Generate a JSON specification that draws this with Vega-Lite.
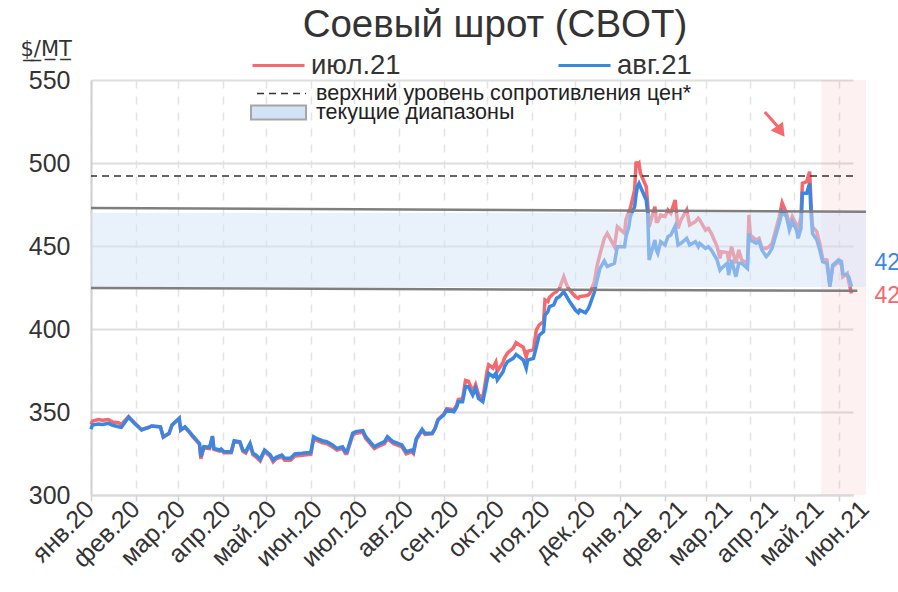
{
"$schema": "https://vega.github.io/schema/vega-lite/v6.json",
"width": 762, "height": 415,
"autosize": {"type": "none"},
"padding": {"left": 91, "top": 80, "right": 45, "bottom": 97},
"background": "white",
"config": {"font": "Liberation Sans", "view": {"stroke": null}},
"title": {"text": "Соевый шрот (CBOT)", "fontSize": 38.5, "fontWeight": "normal", "color": "#333333", "anchor": "middle", "frame": "group", "dx": 23, "offset": -37, "baseline": "alphabetic"},
"datasets": {"prices": [
{"d":"2020-01-01","jul":342.5,"aug":339.6},{"d":"2020-01-02","jul":344.5,"aug":342.2},{"d":"2020-01-06","jul":345.5,"aug":342.8},{"d":"2020-01-09","jul":345.0,"aug":342.5},{"d":"2020-01-13","jul":345.5,"aug":343.2},{"d":"2020-01-16","jul":344.0,"aug":342.0},{"d":"2020-01-20","jul":343.5,"aug":341.1},{"d":"2020-01-22","jul":342.5,"aug":340.8},{"d":"2020-01-27","jul":347.3,"aug":346.8},{"d":"2020-01-31","jul":343.5,"aug":343.2},
{"d":"2020-02-05","jul":339.5,"aug":339.2},{"d":"2020-02-10","jul":340.8,"aug":340.8},{"d":"2020-02-12","jul":341.6,"aug":341.6},{"d":"2020-02-18","jul":341.0,"aug":341.1},{"d":"2020-02-20","jul":334.8,"aug":335.1},{"d":"2020-02-24","jul":337.0,"aug":337.2},{"d":"2020-02-26","jul":342.0,"aug":342.2},
{"d":"2020-03-02","jul":346.0,"aug":346.2},{"d":"2020-03-03","jul":339.0,"aug":339.2},{"d":"2020-03-06","jul":340.8,"aug":341.1},{"d":"2020-03-09","jul":337.8,"aug":338.2},{"d":"2020-03-11","jul":335.5,"aug":336.1},{"d":"2020-03-16","jul":330.5,"aug":331.1},{"d":"2020-03-17","jul":321.8,"aug":323.1},{"d":"2020-03-19","jul":328.3,"aug":329.1},{"d":"2020-03-23","jul":328.0,"aug":328.7},{"d":"2020-03-25","jul":335.0,"aug":335.5},{"d":"2020-03-26","jul":327.5,"aug":328.1},{"d":"2020-03-30","jul":326.5,"aug":327.1},{"d":"2020-03-31","jul":327.0,"aug":327.7},
{"d":"2020-04-02","jul":325.5,"aug":326.1},{"d":"2020-04-07","jul":325.5,"aug":326.1},{"d":"2020-04-09","jul":332.0,"aug":332.7},{"d":"2020-04-13","jul":331.5,"aug":332.1},{"d":"2020-04-15","jul":326.3,"aug":327.1},{"d":"2020-04-17","jul":325.3,"aug":326.1},{"d":"2020-04-20","jul":330.3,"aug":331.1},{"d":"2020-04-22","jul":324.3,"aug":325.1},{"d":"2020-04-24","jul":323.0,"aug":324.1},{"d":"2020-04-27","jul":320.5,"aug":321.5},{"d":"2020-04-30","jul":326.3,"aug":327.1},
{"d":"2020-05-04","jul":323.3,"aug":324.1},{"d":"2020-05-06","jul":320.0,"aug":321.1},{"d":"2020-05-08","jul":321.7,"aug":322.7},{"d":"2020-05-12","jul":323.0,"aug":324.1},{"d":"2020-05-14","jul":321.0,"aug":322.1},{"d":"2020-05-18","jul":321.0,"aug":322.1},{"d":"2020-05-21","jul":323.5,"aug":324.7},{"d":"2020-05-26","jul":324.0,"aug":325.1},{"d":"2020-05-29","jul":324.3,"aug":325.5},
{"d":"2020-06-01","jul":324.5,"aug":325.6},{"d":"2020-06-03","jul":334.0,"aug":335.1},{"d":"2020-06-05","jul":333.0,"aug":334.1},{"d":"2020-06-09","jul":331.5,"aug":332.7},{"d":"2020-06-12","jul":331.0,"aug":332.1},{"d":"2020-06-16","jul":329.0,"aug":330.1},{"d":"2020-06-19","jul":327.0,"aug":328.1},{"d":"2020-06-23","jul":328.0,"aug":329.1},{"d":"2020-06-25","jul":325.0,"aug":326.1},{"d":"2020-06-26","jul":325.0,"aug":326.1},{"d":"2020-06-30","jul":336.0,"aug":337.2},
{"d":"2020-07-02","jul":337.2,"aug":338.2},{"d":"2020-07-07","jul":337.8,"aug":338.8},{"d":"2020-07-09","jul":334.0,"aug":335.1},{"d":"2020-07-13","jul":330.0,"aug":331.1},{"d":"2020-07-15","jul":328.0,"aug":329.1},{"d":"2020-07-17","jul":329.0,"aug":330.1},{"d":"2020-07-22","jul":331.0,"aug":332.1},{"d":"2020-07-24","jul":334.0,"aug":335.1},{"d":"2020-07-28","jul":331.0,"aug":332.1},{"d":"2020-07-30","jul":330.3,"aug":331.5},
{"d":"2020-08-03","jul":329.0,"aug":330.1},{"d":"2020-08-06","jul":324.8,"aug":326.1},{"d":"2020-08-10","jul":326.0,"aug":327.1},{"d":"2020-08-11","jul":325.0,"aug":326.1},{"d":"2020-08-13","jul":333.3,"aug":334.1},{"d":"2020-08-17","jul":339.0,"aug":339.6},{"d":"2020-08-19","jul":336.5,"aug":337.2},{"d":"2020-08-24","jul":336.8,"aug":337.2},{"d":"2020-08-26","jul":340.2,"aug":340.2},{"d":"2020-08-28","jul":345.5,"aug":345.2},
{"d":"2020-09-01","jul":348.8,"aug":348.2},{"d":"2020-09-03","jul":352.0,"aug":351.2},{"d":"2020-09-08","jul":351.3,"aug":350.2},{"d":"2020-09-10","jul":354.5,"aug":353.2},{"d":"2020-09-11","jul":357.5,"aug":356.2},{"d":"2020-09-14","jul":358.0,"aug":356.2},{"d":"2020-09-16","jul":369.0,"aug":365.2},{"d":"2020-09-18","jul":368.5,"aug":365.2},{"d":"2020-09-21","jul":362.5,"aug":360.2},{"d":"2020-09-23","jul":366.5,"aug":364.3},{"d":"2020-09-25","jul":360.5,"aug":358.2},{"d":"2020-09-28","jul":358.5,"aug":356.2},
{"d":"2020-10-01","jul":375.0,"aug":369.3},{"d":"2020-10-02","jul":378.5,"aug":373.3},{"d":"2020-10-05","jul":376.5,"aug":371.3},{"d":"2020-10-07","jul":380.0,"aug":373.3},{"d":"2020-10-08","jul":374.5,"aug":369.3},{"d":"2020-10-12","jul":380.0,"aug":374.3},{"d":"2020-10-13","jul":382.5,"aug":377.3},{"d":"2020-10-15","jul":385.4,"aug":380.3},{"d":"2020-10-19","jul":388.5,"aug":382.3},{"d":"2020-10-21","jul":391.8,"aug":384.7},{"d":"2020-10-23","jul":390.5,"aug":383.3},{"d":"2020-10-26","jul":389.0,"aug":381.3},{"d":"2020-10-28","jul":383.0,"aug":376.3},{"d":"2020-10-29","jul":386.5,"aug":381.3},
{"d":"2020-11-02","jul":387.5,"aug":382.3},{"d":"2020-11-04","jul":399.4,"aug":389.3},{"d":"2020-11-06","jul":402.5,"aug":396.3},{"d":"2020-11-09","jul":404.4,"aug":398.4},{"d":"2020-11-10","jul":417.5,"aug":408.4},{"d":"2020-11-12","jul":416.5,"aug":410.4},{"d":"2020-11-13","jul":419.0,"aug":413.4},{"d":"2020-11-16","jul":421.5,"aug":414.5},{"d":"2020-11-18","jul":422.5,"aug":418.5},{"d":"2020-11-20","jul":424.5,"aug":419.5},{"d":"2020-11-23","jul":431.5,"aug":422.5},{"d":"2020-11-25","jul":426.5,"aug":419.5},{"d":"2020-11-27","jul":423.5,"aug":416.5},
{"d":"2020-12-01","jul":419.5,"aug":411.4},{"d":"2020-12-03","jul":418.5,"aug":409.8},{"d":"2020-12-04","jul":419.5,"aug":411.4},{"d":"2020-12-08","jul":420.0,"aug":409.8},{"d":"2020-12-10","jul":420.5,"aug":412.4},{"d":"2020-12-11","jul":421.5,"aug":414.5},{"d":"2020-12-14","jul":428.0,"aug":422.0},{"d":"2020-12-16","jul":438.0,"aug":429.5},{"d":"2020-12-17","jul":441.6,"aug":433.0},{"d":"2020-12-18","jul":445.0,"aug":436.5},{"d":"2020-12-21","jul":454.6,"aug":441.0},{"d":"2020-12-23","jul":457.6,"aug":437.6},{"d":"2020-12-28","jul":449.6,"aug":439.6},{"d":"2020-12-30","jul":461.6,"aug":449.6},
{"d":"2021-01-04","jul":457.6,"aug":449.6},{"d":"2021-01-05","jul":466.0,"aug":455.6},{"d":"2021-01-07","jul":470.7,"aug":461.6},{"d":"2021-01-08","jul":472.7,"aug":467.7},{"d":"2021-01-11","jul":484.0,"aug":473.7},{"d":"2021-01-12","jul":500.8,"aug":481.0},{"d":"2021-01-13","jul":498.8,"aug":486.0},{"d":"2021-01-14","jul":499.8,"aug":487.7},{"d":"2021-01-15","jul":493.8,"aug":485.7},{"d":"2021-01-19","jul":485.7,"aug":477.7},{"d":"2021-01-20","jul":475.7,"aug":469.7},{"d":"2021-01-21","jul":461.6,"aug":441.6},{"d":"2021-01-25","jul":473.7,"aug":453.6},{"d":"2021-01-26","jul":464.7,"aug":447.6},{"d":"2021-01-27","jul":464.7,"aug":445.6},{"d":"2021-01-29","jul":468.7,"aug":452.6},
{"d":"2021-02-01","jul":467.7,"aug":450.6},{"d":"2021-02-03","jul":471.7,"aug":455.6},{"d":"2021-02-05","jul":469.7,"aug":456.6},{"d":"2021-02-08","jul":477.7,"aug":462.0},{"d":"2021-02-10","jul":460.6,"aug":450.6},{"d":"2021-02-12","jul":465.7,"aug":451.6},{"d":"2021-02-16","jul":471.7,"aug":454.6},{"d":"2021-02-18","jul":462.7,"aug":450.6},{"d":"2021-02-22","jul":464.7,"aug":452.6},{"d":"2021-02-24","jul":466.7,"aug":449.6},{"d":"2021-02-25","jul":465.7,"aug":451.6},
{"d":"2021-03-01","jul":459.6,"aug":448.6},{"d":"2021-03-03","jul":460.6,"aug":449.6},{"d":"2021-03-05","jul":457.6,"aug":447.6},{"d":"2021-03-09","jul":449.6,"aug":441.6},{"d":"2021-03-11","jul":442.6,"aug":435.5},{"d":"2021-03-12","jul":446.6,"aug":436.5},{"d":"2021-03-16","jul":446.0,"aug":439.6},{"d":"2021-03-17","jul":441.0,"aug":432.5},{"d":"2021-03-19","jul":449.6,"aug":441.6},{"d":"2021-03-22","jul":439.6,"aug":431.5},{"d":"2021-03-24","jul":447.6,"aug":439.6},{"d":"2021-03-26","jul":441.6,"aug":439.6},{"d":"2021-03-30","jul":439.6,"aug":436.5},{"d":"2021-03-31","jul":468.7,"aug":457.6},
{"d":"2021-04-01","jul":456.6,"aug":453.6},{"d":"2021-04-05","jul":453.6,"aug":451.6},{"d":"2021-04-07","jul":454.6,"aug":452.6},{"d":"2021-04-09","jul":449.0,"aug":447.6},{"d":"2021-04-12","jul":448.6,"aug":443.6},{"d":"2021-04-14","jul":449.6,"aug":445.6},{"d":"2021-04-16","jul":451.6,"aug":448.6},{"d":"2021-04-21","jul":467.7,"aug":463.7},{"d":"2021-04-23","jul":476.1,"aug":470.7},{"d":"2021-04-26","jul":469.7,"aug":467.7},{"d":"2021-04-28","jul":462.7,"aug":459.6},{"d":"2021-04-30","jul":467.7,"aug":464.7},
{"d":"2021-05-03","jul":462.7,"aug":459.6},{"d":"2021-05-04","jul":459.6,"aug":454.6},{"d":"2021-05-06","jul":467.7,"aug":460.6},{"d":"2021-05-07","jul":487.8,"aug":481.8},{"d":"2021-05-10","jul":488.8,"aug":481.8},{"d":"2021-05-12","jul":494.8,"aug":487.8},{"d":"2021-05-13","jul":475.7,"aug":469.7},{"d":"2021-05-14","jul":461.6,"aug":457.6},{"d":"2021-05-17","jul":458.6,"aug":453.6},{"d":"2021-05-19","jul":451.6,"aug":447.6},{"d":"2021-05-21","jul":442.6,"aug":440.6},{"d":"2021-05-24","jul":441.6,"aug":439.6},{"d":"2021-05-26","jul":426.5,"aug":425.5},{"d":"2021-05-28","jul":437.6,"aug":438.5},
{"d":"2021-06-01","jul":440.6,"aug":441.6},{"d":"2021-06-03","jul":438.5,"aug":440.6},{"d":"2021-06-04","jul":431.5,"aug":433.5},{"d":"2021-06-07","jul":433.5,"aug":432.5},{"d":"2021-06-08","jul":428.5,"aug":431.5},{"d":"2021-06-10","jul":421.5,"aug":425.5}
],
"months": [
{"k":0,"lab":"янв.20"},{"k":1,"lab":"фев.20"},{"k":2,"lab":"мар.20"},{"k":3,"lab":"апр.20"},{"k":4,"lab":"май.20"},{"k":5,"lab":"июн.20"},{"k":6,"lab":"июл.20"},{"k":7,"lab":"авг.20"},{"k":8,"lab":"сен.20"},{"k":9,"lab":"окт.20"},{"k":10,"lab":"ноя.20"},{"k":11,"lab":"дек.20"},{"k":12,"lab":"янв.21"},{"k":13,"lab":"фев.21"},{"k":14,"lab":"мар.21"},{"k":15,"lab":"апр.21"},{"k":16,"lab":"май.21"},{"k":17,"lab":"июн.21"}
]},
"resolve": {"scale": {"x": "independent"}},
"layer": [
{"layer": [
{"data": {"values": [{"a": "2021-05-20", "b": "2021-06-20"}]},
 "mark": {"type": "rect", "color": "#f4686e", "opacity": 0.09},
 "encoding": {"x": {"field": "a", "type": "temporal"}, "x2": {"field": "b"}, "y": {"datum": 550, "type": "quantitative"}, "y2": {"datum": 300}}},
{"data": {"name": "prices"},
 "mark": {"type": "line", "strokeWidth": 3.5},
 "encoding": {
  "x": {"field": "d", "type": "temporal",
        "scale": {"domain": [{"year": 2020, "month": 1, "date": 1}, {"year": 2021, "month": 6, "date": 11}]},
        "axis": {"title": null, "tickCount": {"interval": "month", "step": 1}, "labels": false,
                 "grid": true, "gridDash": [8, 8], "gridColor": "#e3e3e3", "gridWidth": 1.5,
                 "domainColor": "#d9d9d9", "domainWidth": 2, "tickColor": "#d0d0d0", "tickSize": 6, "tickWidth": 1.5}},
  "y": {"field": "jul", "type": "quantitative",
        "scale": {"domain": [300, 550], "zero": false, "nice": false},
        "axis": {"title": "$\u0332/\u0332M\u0332T\u0332", "titleFont": "DejaVu Sans", "titleAngle": 0, "titleX": -71, "titleY": -25, "titleAlign": "left", "titleBaseline": "alphabetic",
                 "titleFontSize": 21, "titleFontWeight": "normal", "titleColor": "#333333",
                 "values": [300, 350, 400, 450, 500, 550], "labelFontSize": 25, "labelColor": "#333333", "labelPadding": 21,
                 "ticks": false, "domainColor": "#cfcfcf", "domainWidth": 2, "grid": true, "gridColor": "#dedede", "gridWidth": 2}},
  "stroke": {"datum": "jul", "type": "nominal",
             "scale": {"domain": ["jul", "aug"], "range": ["#f4686e", "#3b86e0"]},
             "legend": {"orient": "none", "legendX": 160, "legendY": -42, "direction": "horizontal", "title": null,
                        "symbolType": "stroke", "symbolSize": 2704, "symbolStrokeWidth": 3, "labelFontSize": 27.5, "labelColor": "#333333",
                        "labelOffset": 5, "columnPadding": 151, "padding": 0,
                        "labelExpr": "datum.label == 'jul' ? 'июл.21' : 'авг.21'"}}}},
{"data": {"name": "prices"},
 "mark": {"type": "line", "strokeWidth": 3.5},
 "encoding": {"x": {"field": "d", "type": "temporal"}, "y": {"field": "aug", "type": "quantitative"}, "stroke": {"datum": "aug", "type": "nominal"}}},
{"data": {"values": [{"a": "2020-01-01", "b": "2021-06-20", "lo": 425.3, "hi": 469.9}]},
 "mark": {"type": "rect", "opacity": 0.5},
 "encoding": {"x": {"field": "a", "type": "temporal"}, "x2": {"field": "b"}, "y": {"field": "lo", "type": "quantitative"}, "y2": {"field": "hi"},
   "fill": {"datum": "текущие диапазоны", "type": "nominal", "scale": {"range": ["#d3e3f7"]},
            "legend": {"orient": "none", "legendX": 159, "legendY": 4, "title": null, "symbolType": "M-1,-0.255H1V0.255H-1Z", "symbolSize": 3025,
                       "symbolStrokeColor": "#a6a6a6", "symbolStrokeWidth": 2, "symbolOpacity": 1, "labelFontSize": 21.5, "labelColor": "#222222",
                       "labelOffset": 9, "labelLimit": 600, "padding": 0}}}},
{"data": {"values": [{"a": "2020-01-01", "b": "2021-06-20", "ya": 472.9, "yb": 470.6}, {"a": "2020-01-01", "b": "2021-06-14", "ya": 424.7, "yb": 423.0}]},
 "mark": {"type": "rule", "color": "#7f7f7f", "strokeWidth": 2.5},
 "encoding": {"x": {"field": "a", "type": "temporal"}, "x2": {"field": "b"}, "y": {"field": "ya", "type": "quantitative"}, "y2": {"field": "yb"}}},
{"data": {"values": [{"lvl": 492.2}]},
 "mark": {"type": "rule", "color": "#333333", "strokeWidth": 1.5},
 "encoding": {"y": {"field": "lvl", "type": "quantitative"},
   "strokeDash": {"datum": "верхний уровень сопротивления цен*", "type": "nominal", "scale": {"range": [[7, 5]]},
                  "legend": {"orient": "none", "legendX": 165, "legendY": -12, "title": null, "symbolType": "stroke", "symbolSize": 2401,
                             "symbolStrokeColor": "#333333", "symbolStrokeWidth": 1.5, "labelFontSize": 21.5, "labelColor": "#222222",
                             "labelOffset": 9, "labelLimit": 600, "padding": 0}}}},
{"data": {"values": [{"d": "2021-06-10", "v": 425.5, "t": "426"}]},
 "mark": {"type": "text", "align": "left", "baseline": "middle", "dx": 23, "dy": -24, "fontSize": 23, "color": "#3b86e0"},
 "encoding": {"x": {"field": "d", "type": "temporal"}, "y": {"field": "v", "type": "quantitative"}, "text": {"field": "t"}}},
{"data": {"values": [{"d": "2021-06-10", "v": 421.5, "t": "422"}]},
 "mark": {"type": "text", "align": "left", "baseline": "middle", "dx": 23, "dy": 3, "fontSize": 23, "color": "#f4686e"},
 "encoding": {"x": {"field": "d", "type": "temporal"}, "y": {"field": "v", "type": "quantitative"}, "text": {"field": "t"}}},
{"data": {"values": [{"a": "2021-04-11", "ya": 530.7, "b": "2021-04-21", "yb": 521.0}]},
 "mark": {"type": "rule", "color": "#f4686e", "strokeWidth": 3},
 "encoding": {"x": {"field": "a", "type": "temporal"}, "x2": {"field": "b"}, "y": {"field": "ya", "type": "quantitative"}, "y2": {"field": "yb"}}},
{"data": {"values": [{"b": "2021-04-22", "yb": 519.0}]},
 "mark": {"type": "point", "shape": "triangle-down", "filled": true, "size": 230, "angle": -36, "color": "#f4686e", "opacity": 1},
 "encoding": {"x": {"field": "b", "type": "temporal"}, "y": {"field": "yb", "type": "quantitative"}}}
]},
{"data": {"name": "months"},
 "mark": {"type": "text", "angle": -45, "align": "right", "baseline": "middle", "fontSize": 25, "color": "#333333"},
 "encoding": {"x": {"field": "k", "type": "quantitative", "scale": {"domain": [0, 17], "range": [-1, 774], "nice": false, "zero": false}, "axis": null},
              "y": {"datum": 294, "type": "quantitative"},
              "text": {"field": "lab"}}}
]
}
